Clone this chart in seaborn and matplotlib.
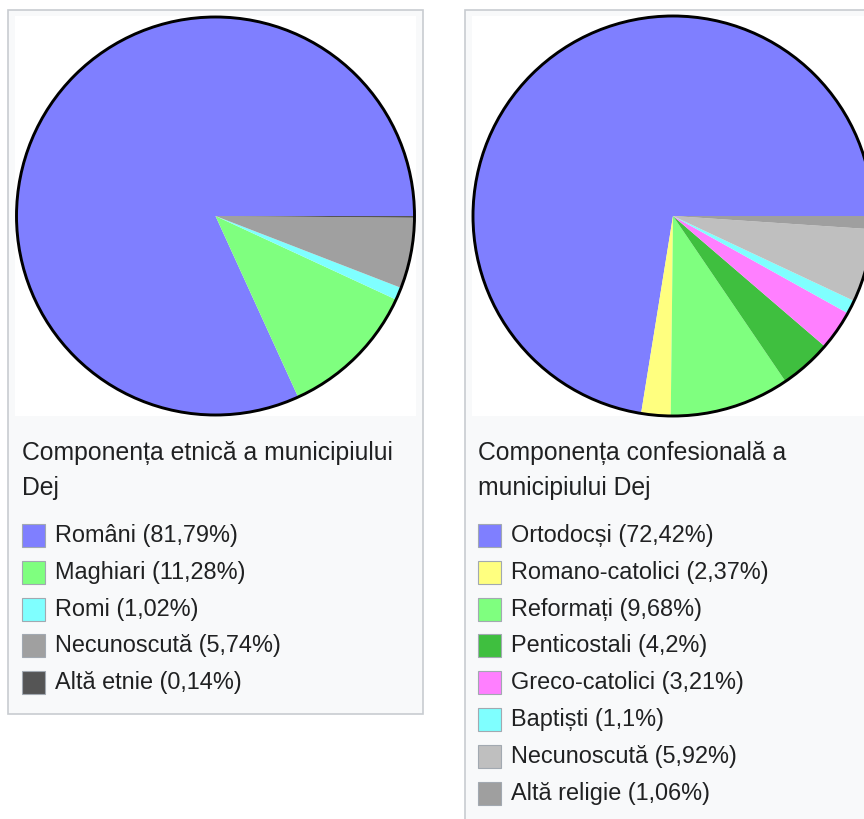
import matplotlib
matplotlib.use("Agg")
import matplotlib.pyplot as plt
from matplotlib.patches import Rectangle, Circle
import seaborn as sns

# data (Dej, census)
etnii = ["Români", "Maghiari", "Romi", "Necunoscută", "Altă etnie"]
etnii_pct = [81.79, 11.28, 1.02, 5.74, 0.14]
etnii_colors = ["#7f7fff", "#7fff7f", "#7fffff", "#a0a0a0", "#555555"]

religii = ["Ortodocși", "Romano-catolici", "Reformați", "Penticostali",
           "Greco-catolici", "Baptiști", "Necunoscută", "Altă religie"]
religii_pct = [72.42, 2.37, 9.68, 4.2, 3.21, 1.1, 5.92, 1.06]
religii_colors = ["#7f7fff", "#ffff7f", "#7fff7f", "#3fbf3f",
                  "#ff7fff", "#7fffff", "#bfbfbf", "#9f9f9f"]

titlu_etnii = ["Componența etnică a municipiului", "Dej"]
titlu_religii = ["Componența confesională a", "municipiului Dej"]

sns.set_theme(style="white")
plt.rcParams["font.family"] = ["Liberation Sans", "DejaVu Sans"]

W, H = 864, 820
fig = plt.figure(figsize=(W / 100, H / 100), dpi=100)
fig.patch.set_facecolor("white")
TXT = "#202122"


def fx(x):
    return x / W


def fy(y):
    return 1 - y / H


def panel(x0, y0, x1, y1, ix0, iy0, ix1, iy1):
    # gray frame with white picture area, kept under the pies
    fig.add_artist(Rectangle((fx(x0), fy(y1)), fx(x1 - x0), (y1 - y0) / H,
                             transform=fig.transFigure, fc="#f8f9fa",
                             ec="#c8ccd1", lw=1.2, zorder=-2))
    fig.add_artist(Rectangle((fx(ix0), fy(iy1)), fx(ix1 - ix0), (iy1 - iy0) / H,
                             transform=fig.transFigure, fc="white", ec="none",
                             zorder=-1))


def draw_pie(cx, cy, r, values, colors):
    pad = 6
    ax = fig.add_axes([fx(cx - r - pad), fy(cy + r + pad),
                       fx(2 * (r + pad)), 2 * (r + pad) / H])
    ax.set_zorder(5)
    ax.patch.set_alpha(0)
    ax.pie(values, colors=colors, startangle=0, counterclock=True,
           wedgeprops=dict(linewidth=0))
    ax.add_patch(Circle((0, 0), 1, fill=False, ec="black", lw=2.1))
    lim = (r + pad) / r
    ax.set_xlim(-lim, lim)
    ax.set_ylim(-lim, lim)
    ax.set_aspect("equal")
    ax.axis("off")


def legend(x, title_lines, names, values, colors):
    for i, line in enumerate(title_lines):
        fig.text(fx(x), fy(460 + 35 * i), line, fontsize=17.8, color=TXT,
                 va="baseline", ha="left")
    for i, (n, v, c) in enumerate(zip(names, values, colors)):
        base = 542 + 36.8 * i
        fig.add_artist(Rectangle((fx(x), fy(base + 6)), fx(23), 23 / H,
                                 transform=fig.transFigure, fc=c,
                                 ec="#a2a9b1", lw=0.8))
        label = f"{n} ({str(v).replace('.', ',')}%)"
        fig.text(fx(x + 33), fy(base), label, fontsize=16.9, color=TXT,
                 va="baseline", ha="left")


panel(8, 11, 423, 715, 15, 17, 416, 417)
panel(465, 11, 900, 840, 472, 17, 900, 417)

draw_pie(215.5, 217, 199, etnii_pct, etnii_colors)
draw_pie(673, 217, 200, religii_pct, religii_colors)

legend(22, titlu_etnii, etnii, etnii_pct, etnii_colors)
legend(478, titlu_religii, religii, religii_pct, religii_colors)

fig.savefig("out.png", dpi=100)
